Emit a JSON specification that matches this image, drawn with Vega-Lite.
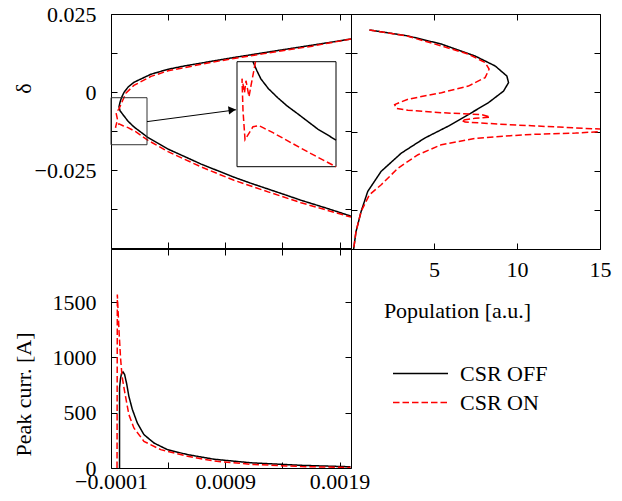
{
  "$schema": "https://vega.github.io/schema/vega-lite/v6.json",
  "padding": {"left": 11, "top": 2, "right": 5, "bottom": 5},
  "config": {
    "view": {"stroke": "black", "strokeWidth": 1},
    "style": {
      "guide-label": {"font": "Liberation Serif", "fontSize": 22, "fill": "black"},
      "guide-title": {"font": "Liberation Serif", "fontSize": 22, "fontWeight": "normal", "fill": "black"}
    },
    "axis": {"grid": false, "domain": false, "tickSize": -6, "tickColor": "black", "tickWidth": 1, "labelFont": "Liberation Serif", "labelFontSize": 22, "labelColor": "black", "titleFont": "Liberation Serif", "titleFontSize": 22, "titleFontWeight": "normal", "titleColor": "black", "labelFlush": false, "labelOverlap": false},
    "line": {"strokeWidth": 1.5}
  },
  "datasets": {
    "tl": [
      {"series":"CSR OFF","i":1,"t":0.0020,"d":0.0170},
      {"series":"CSR OFF","i":2,"t":0.00185,"d":0.0161},
      {"series":"CSR OFF","i":3,"t":0.00166,"d":0.0150},
      {"series":"CSR OFF","i":4,"t":0.0015,"d":0.0141},
      {"series":"CSR OFF","i":5,"t":0.00124,"d":0.0126},
      {"series":"CSR OFF","i":6,"t":0.0010,"d":0.0112},
      {"series":"CSR OFF","i":7,"t":0.00079,"d":0.0099},
      {"series":"CSR OFF","i":8,"t":0.00055,"d":0.0084},
      {"series":"CSR OFF","i":9,"t":0.0004,"d":0.0073},
      {"series":"CSR OFF","i":10,"t":0.00025,"d":0.0057},
      {"series":"CSR OFF","i":11,"t":0.0001,"d":0.0031},
      {"series":"CSR OFF","i":12,"t":0.00005,"d":0.0016},
      {"series":"CSR OFF","i":13,"t":0.000014,"d":-0.0001},
      {"series":"CSR OFF","i":14,"t":-0.000008,"d":-0.0018},
      {"series":"CSR OFF","i":15,"t":-0.000021,"d":-0.0033},
      {"series":"CSR OFF","i":16,"t":-0.00003,"d":-0.0047},
      {"series":"CSR OFF","i":17,"t":-0.000021,"d":-0.0060},
      {"series":"CSR OFF","i":18,"t":0.000014,"d":-0.0077},
      {"series":"CSR OFF","i":19,"t":0.00005,"d":-0.0094},
      {"series":"CSR OFF","i":20,"t":0.000101,"d":-0.0112},
      {"series":"CSR OFF","i":21,"t":0.000224,"d":-0.0146},
      {"series":"CSR OFF","i":22,"t":0.000399,"d":-0.0183},
      {"series":"CSR OFF","i":23,"t":0.00055,"d":-0.0208},
      {"series":"CSR OFF","i":24,"t":0.000688,"d":-0.0231},
      {"series":"CSR OFF","i":25,"t":0.000976,"d":-0.0273},
      {"series":"CSR OFF","i":26,"t":0.00112,"d":-0.0292},
      {"series":"CSR OFF","i":27,"t":0.001274,"d":-0.0311},
      {"series":"CSR OFF","i":28,"t":0.00142,"d":-0.0329},
      {"series":"CSR OFF","i":29,"t":0.001563,"d":-0.0347},
      {"series":"CSR OFF","i":30,"t":0.0018,"d":-0.0374},
      {"series":"CSR OFF","i":31,"t":0.0020,"d":-0.0398},
      {"series":"CSR ON","i":1,"t":0.0020,"d":0.0170},
      {"series":"CSR ON","i":2,"t":0.00166,"d":0.0147},
      {"series":"CSR ON","i":3,"t":0.00124,"d":0.0123},
      {"series":"CSR ON","i":4,"t":0.00079,"d":0.0096},
      {"series":"CSR ON","i":5,"t":0.0004,"d":0.0068},
      {"series":"CSR ON","i":6,"t":0.00025,"d":0.0050},
      {"series":"CSR ON","i":7,"t":0.0001,"d":0.0021},
      {"series":"CSR ON","i":8,"t":0.00003,"d":-0.0004},
      {"series":"CSR ON","i":9,"t":0.000001,"d":-0.0028},
      {"series":"CSR ON","i":10,"t":-0.00003,"d":-0.0054},
      {"series":"CSR ON","i":11,"t":-0.000056,"d":-0.0066},
      {"series":"CSR ON","i":12,"t":-0.000043,"d":-0.0089},
      {"series":"CSR ON","i":13,"t":-0.000061,"d":-0.0114},
      {"series":"CSR ON","i":14,"t":-0.00003,"d":-0.0102},
      {"series":"CSR ON","i":15,"t":0.000005,"d":-0.0108},
      {"series":"CSR ON","i":16,"t":0.000049,"d":-0.0114},
      {"series":"CSR ON","i":17,"t":0.000119,"d":-0.0128},
      {"series":"CSR ON","i":18,"t":0.000224,"d":-0.0155},
      {"series":"CSR ON","i":19,"t":0.000399,"d":-0.0191},
      {"series":"CSR ON","i":20,"t":0.000688,"d":-0.0240},
      {"series":"CSR ON","i":21,"t":0.000976,"d":-0.0283},
      {"series":"CSR ON","i":22,"t":0.001274,"d":-0.0320},
      {"series":"CSR ON","i":23,"t":0.001563,"d":-0.0355},
      {"series":"CSR ON","i":24,"t":0.0020,"d":-0.0401}
    ],
    "inset": [
      {"series":"CSR OFF","i":1,"t":-0.000049,"d":-0.00183},
      {"series":"CSR OFF","i":2,"t":-0.000037,"d":-0.0031},
      {"series":"CSR OFF","i":3,"t":-0.000024,"d":-0.0043},
      {"series":"CSR OFF","i":4,"t":0.0,"d":-0.0057},
      {"series":"CSR OFF","i":5,"t":0.0000295,"d":-0.0070},
      {"series":"CSR OFF","i":6,"t":0.00006,"d":-0.0082},
      {"series":"CSR OFF","i":7,"t":0.000093,"d":-0.0093},
      {"series":"CSR OFF","i":8,"t":0.000125,"d":-0.0104},
      {"series":"CSR OFF","i":9,"t":0.000157,"d":-0.0115},
      {"series":"CSR OFF","i":10,"t":0.000187,"d":-0.0123},
      {"series":"CSR OFF","i":11,"t":0.000215,"d":-0.0131},
      {"series":"CSR ON","i":1,"t":-0.0000411,"d":-0.00183},
      {"series":"CSR ON","i":2,"t":-0.0000555,"d":-0.00527},
      {"series":"CSR ON","i":3,"t":-0.0000618,"d":-0.00685},
      {"series":"CSR ON","i":4,"t":-0.0000714,"d":-0.00456},
      {"series":"CSR ON","i":5,"t":-0.0000761,"d":-0.00628},
      {"series":"CSR ON","i":6,"t":-0.0000841,"d":-0.00427},
      {"series":"CSR ON","i":7,"t":-0.0000809,"d":-0.00886},
      {"series":"CSR ON","i":8,"t":-0.0000745,"d":-0.01302},
      {"series":"CSR ON","i":9,"t":-0.0000491,"d":-0.01116},
      {"series":"CSR ON","i":10,"t":-0.00003,"d":-0.01101},
      {"series":"CSR ON","i":11,"t":-0.0000173,"d":-0.0113},
      {"series":"CSR ON","i":12,"t":0.0000145,"d":-0.01202},
      {"series":"CSR ON","i":13,"t":0.0000718,"d":-0.01345},
      {"series":"CSR ON","i":14,"t":0.0001355,"d":-0.01503},
      {"series":"CSR ON","i":15,"t":0.000215,"d":-0.0169}
    ],
    "tr": [
      {"series":"CSR OFF","i":1,"p":1.11,"d":0.0199},
      {"series":"CSR OFF","i":2,"p":3.43,"d":0.0180},
      {"series":"CSR OFF","i":3,"p":5.45,"d":0.0154},
      {"series":"CSR OFF","i":4,"p":7.47,"d":0.0116},
      {"series":"CSR OFF","i":5,"p":8.69,"d":0.0084},
      {"series":"CSR OFF","i":6,"p":9.39,"d":0.0052},
      {"series":"CSR OFF","i":7,"p":9.49,"d":0.0031},
      {"series":"CSR OFF","i":8,"p":9.19,"d":0.0004},
      {"series":"CSR OFF","i":9,"p":8.28,"d":-0.0033},
      {"series":"CSR OFF","i":10,"p":7.07,"d":-0.0071},
      {"series":"CSR OFF","i":11,"p":5.86,"d":-0.0108},
      {"series":"CSR OFF","i":12,"p":4.44,"d":-0.0146},
      {"series":"CSR OFF","i":13,"p":3.03,"d":-0.0194},
      {"series":"CSR OFF","i":14,"p":1.82,"d":-0.0252},
      {"series":"CSR OFF","i":15,"p":1.01,"d":-0.0316},
      {"series":"CSR OFF","i":16,"p":0.61,"d":-0.0380},
      {"series":"CSR OFF","i":17,"p":0.30,"d":-0.0445},
      {"series":"CSR OFF","i":18,"p":0.16,"d":-0.0500},
      {"series":"CSR ON","i":1,"p":1.11,"d":0.0199},
      {"series":"CSR ON","i":2,"p":3.43,"d":0.0179},
      {"series":"CSR ON","i":3,"p":5.45,"d":0.0148},
      {"series":"CSR ON","i":4,"p":7.07,"d":0.0122},
      {"series":"CSR ON","i":5,"p":8.08,"d":0.0095},
      {"series":"CSR ON","i":6,"p":8.32,"d":0.0074},
      {"series":"CSR ON","i":7,"p":8.08,"d":0.0047},
      {"series":"CSR ON","i":8,"p":7.07,"d":0.0020},
      {"series":"CSR ON","i":9,"p":5.45,"d":-0.0001},
      {"series":"CSR ON","i":10,"p":3.43,"d":-0.0022},
      {"series":"CSR ON","i":11,"p":2.63,"d":-0.0039},
      {"series":"CSR ON","i":12,"p":2.73,"d":-0.0051},
      {"series":"CSR ON","i":13,"p":3.43,"d":-0.0057},
      {"series":"CSR ON","i":14,"p":5.45,"d":-0.0065},
      {"series":"CSR ON","i":15,"p":7.88,"d":-0.0071},
      {"series":"CSR ON","i":16,"p":8.38,"d":-0.0079},
      {"series":"CSR ON","i":17,"p":7.47,"d":-0.0083},
      {"series":"CSR ON","i":18,"p":6.67,"d":-0.0089},
      {"series":"CSR ON","i":19,"p":6.87,"d":-0.0095},
      {"series":"CSR ON","i":20,"p":9.49,"d":-0.0103},
      {"series":"CSR ON","i":21,"p":12.53,"d":-0.0111},
      {"series":"CSR ON","i":22,"p":16.5,"d":-0.0121},
      {"series":"CSR ON","i":23,"p":13.53,"d":-0.0130},
      {"series":"CSR ON","i":24,"p":10.5,"d":-0.0135},
      {"series":"CSR ON","i":25,"p":7.47,"d":-0.0147},
      {"series":"CSR ON","i":26,"p":5.45,"d":-0.0167},
      {"series":"CSR ON","i":27,"p":4.04,"d":-0.0199},
      {"series":"CSR ON","i":28,"p":2.83,"d":-0.0242},
      {"series":"CSR ON","i":29,"p":1.82,"d":-0.0295},
      {"series":"CSR ON","i":30,"p":1.11,"d":-0.0327},
      {"series":"CSR ON","i":31,"p":0.61,"d":-0.0380},
      {"series":"CSR ON","i":32,"p":0.30,"d":-0.0445},
      {"series":"CSR ON","i":33,"p":0.16,"d":-0.0500}
    ],
    "bl": [
      {"series":"CSR OFF","i":1,"t":-0.0000253,"c":0},
      {"series":"CSR OFF","i":2,"t":-0.0000253,"c":723},
      {"series":"CSR OFF","i":3,"t":-0.0000165,"c":811},
      {"series":"CSR OFF","i":4,"t":-0.0000077,"c":856},
      {"series":"CSR OFF","i":5,"t":0.0000054,"c":868},
      {"series":"CSR OFF","i":6,"t":0.0000186,"c":847},
      {"series":"CSR OFF","i":7,"t":0.0000362,"c":766},
      {"series":"CSR OFF","i":8,"t":0.0000564,"c":648},
      {"series":"CSR OFF","i":9,"t":0.0000863,"c":531},
      {"series":"CSR OFF","i":10,"t":0.0001302,"c":407},
      {"series":"CSR OFF","i":11,"t":0.0001882,"c":302},
      {"series":"CSR OFF","i":12,"t":0.0002761,"c":226},
      {"series":"CSR OFF","i":13,"t":0.0003938,"c":166},
      {"series":"CSR OFF","i":14,"t":0.0005696,"c":121},
      {"series":"CSR OFF","i":15,"t":0.0008033,"c":79},
      {"series":"CSR OFF","i":16,"t":0.0011258,"c":47},
      {"series":"CSR OFF","i":17,"t":0.0015651,"c":24},
      {"series":"CSR OFF","i":18,"t":0.0019957,"c":11},
      {"series":"CSR ON","i":1,"t":-0.0000473,"c":0},
      {"series":"CSR ON","i":2,"t":-0.0000446,"c":1568},
      {"series":"CSR ON","i":3,"t":-0.0000297,"c":1236},
      {"series":"CSR ON","i":4,"t":-0.0000165,"c":995},
      {"series":"CSR ON","i":5,"t":-0.0000033,"c":829},
      {"series":"CSR ON","i":6,"t":0.0000186,"c":694},
      {"series":"CSR ON","i":7,"t":0.0000564,"c":483},
      {"series":"CSR ON","i":8,"t":0.0001003,"c":362},
      {"series":"CSR ON","i":9,"t":0.0001882,"c":241},
      {"series":"CSR ON","i":10,"t":0.000335,"c":166},
      {"series":"CSR ON","i":11,"t":0.0005696,"c":106},
      {"series":"CSR ON","i":12,"t":0.0008033,"c":63},
      {"series":"CSR ON","i":13,"t":0.0011258,"c":33},
      {"series":"CSR ON","i":14,"t":0.0015651,"c":13},
      {"series":"CSR ON","i":15,"t":0.0019957,"c":4}
    ],
    "box": [{"t1": -0.0001, "t2": 0.000215, "d1": -0.0169, "d2": -0.00183}],
    "arrow": [{"t1": 0.000215, "d1": -0.0095, "t2": 0.000995, "d2": -0.0057, "th": 0.00096, "dh": -0.00575}]
  },
  "columns": 2,
  "spacing": 0,
  "bounds": "flush",
  "align": "each",
  "resolve": {
    "scale": {"x": "independent", "y": "independent"},
    "legend": {"color": "independent", "strokeDash": "independent"}
  },
  "concat": [
    {
      "width": 240,
      "height": 234,
      "layer": [
        {
          "layer": [
            {
              "data": {"name": "tl"},
              "transform": [{"filter": "datum.series == 'CSR OFF'"}],
              "mark": {"type": "line", "clip": true},
              "encoding": {
                "x": {"field": "t", "type": "quantitative", "scale": {"domain": [-0.0001, 0.002], "nice": false, "zero": false}, "axis": {"orient": "bottom", "values": [-0.0001, 0.0004, 0.0009, 0.0014, 0.0019], "labels": false, "title": null}},
                "y": {"field": "d", "type": "quantitative", "scale": {"domain": [-0.05, 0.025], "nice": false, "zero": false}, "axis": {"orient": "left", "values": [-0.05, -0.0375, -0.025, -0.0125, 0, 0.0125, 0.025], "format": ".3~f", "labelExpr": "abs(datum.value) > 0.03 || abs(abs(datum.value) - 0.0125) < 0.001 ? '' : datum.label", "labelFont": "Liberation Serif", "labelFontSize": 22, "labelPadding": 21, "title": "δ", "titleX": -88, "titleY": 74, "titleBaseline": "middle", "titleAlign": "center", "titleAngle": 270}},
                "order": {"field": "i", "type": "quantitative"},
                "color": {"field": "series", "type": "nominal", "scale": {"domain": ["CSR OFF", "CSR ON"], "range": ["#000000", "#ff0000"]}, "legend": null},
                "strokeDash": {"field": "series", "type": "nominal", "scale": {"domain": ["CSR OFF", "CSR ON"], "range": [[1, 0], [6.5, 3]]}, "legend": null}
              }
            },
            {
              "data": {"name": "tl"},
              "transform": [{"filter": "datum.series == 'CSR ON'"}],
              "mark": {"type": "line", "clip": true},
              "encoding": {
                "x": {"field": "t", "type": "quantitative", "scale": {"domain": [-0.0001, 0.002], "nice": false, "zero": false}, "axis": {"orient": "top", "values": [-0.0001, 0.0004, 0.0009, 0.0014, 0.0019], "labels": false, "title": null}},
                "y": {"field": "d", "type": "quantitative", "scale": {"domain": [-0.05, 0.025], "nice": false, "zero": false}, "axis": {"orient": "right", "values": [-0.05, -0.0375, -0.025, -0.0125, 0, 0.0125, 0.025], "labels": false, "title": null}},
                "order": {"field": "i", "type": "quantitative"},
                "color": {"field": "series", "type": "nominal", "scale": {"domain": ["CSR OFF", "CSR ON"], "range": ["#000000", "#ff0000"]}, "legend": null},
                "strokeDash": {"field": "series", "type": "nominal", "scale": {"domain": ["CSR OFF", "CSR ON"], "range": [[1, 0], [6.5, 3]]}, "legend": null}
              }
            },
            {
              "data": {"name": "box"},
              "mark": {"type": "rect", "fill": null, "fillOpacity": 0, "stroke": "#333333", "strokeWidth": 1},
              "encoding": {
                "x": {"field": "t1", "type": "quantitative", "scale": {"domain": [-0.0001, 0.002], "nice": false, "zero": false}, "axis": null},
                "x2": {"field": "t2"},
                "y": {"field": "d1", "type": "quantitative", "scale": {"domain": [-0.05, 0.025], "nice": false, "zero": false}, "axis": null},
                "y2": {"field": "d2"}
              }
            },
            {
              "data": {"name": "arrow"},
              "mark": {"type": "rule", "stroke": "black", "strokeWidth": 1},
              "encoding": {
                "x": {"field": "t1", "type": "quantitative", "scale": {"domain": [-0.0001, 0.002], "nice": false, "zero": false}, "axis": null},
                "x2": {"field": "t2"},
                "y": {"field": "d1", "type": "quantitative", "scale": {"domain": [-0.05, 0.025], "nice": false, "zero": false}, "axis": null},
                "y2": {"field": "d2"}
              }
            },
            {
              "data": {"name": "arrow"},
              "mark": {"type": "point", "shape": "triangle-right", "filled": true, "color": "black", "opacity": 1, "size": 70, "angle": -7.6},
              "encoding": {
                "x": {"field": "th", "type": "quantitative", "scale": {"domain": [-0.0001, 0.002], "nice": false, "zero": false}, "axis": null},
                "y": {"field": "dh", "type": "quantitative", "scale": {"domain": [-0.05, 0.025], "nice": false, "zero": false}, "axis": null}
              }
            }
          ],
          "resolve": {"axis": {"x": "independent", "y": "independent"}}
        },
        {
          "layer": [
            {
              "data": {"name": "box"},
              "mark": {"type": "rect", "fill": "white", "stroke": "black", "strokeWidth": 1},
              "encoding": {
                "x": {"field": "t1", "type": "quantitative", "scale": {"domain": [-0.0001, 0.000215], "range": [126, 225], "nice": false, "zero": false}, "axis": null},
                "x2": {"field": "t2"},
                "y": {"field": "d1", "type": "quantitative", "scale": {"domain": [-0.0169, -0.00183], "range": [152.7, 47.7], "nice": false, "zero": false}, "axis": null},
                "y2": {"field": "d2"}
              }
            },
            {
              "data": {"name": "inset"},
              "mark": {"type": "line"},
              "encoding": {
                "x": {"field": "t", "type": "quantitative", "scale": {"domain": [-0.0001, 0.000215], "range": [126, 225], "nice": false, "zero": false}, "axis": null},
                "y": {"field": "d", "type": "quantitative", "scale": {"domain": [-0.0169, -0.00183], "range": [152.7, 47.7], "nice": false, "zero": false}, "axis": null},
                "order": {"field": "i", "type": "quantitative"},
                "color": {"field": "series", "type": "nominal", "scale": {"domain": ["CSR OFF", "CSR ON"], "range": ["#000000", "#ff0000"]}, "legend": null},
                "strokeDash": {"field": "series", "type": "nominal", "scale": {"domain": ["CSR OFF", "CSR ON"], "range": [[1, 0], [6.5, 3]]}, "legend": null}
              }
            }
          ]
        }
      ],
      "resolve": {"scale": {"x": "independent", "y": "independent"}}
    },
    {
      "width": 249,
      "height": 235,
      "layer": [
        {
          "data": {"name": "tr"},
          "transform": [{"filter": "datum.series == 'CSR OFF'"}],
          "mark": {"type": "line", "clip": true},
          "encoding": {
            "x": {"field": "p", "type": "quantitative", "scale": {"domain": [0, 15], "nice": false, "zero": false}, "axis": {"orient": "bottom", "values": [0, 5, 10, 15], "labelExpr": "datum.value == 0 ? '' : datum.label", "labelFont": "Liberation Serif", "labelFontSize": 22, "labelPadding": 16, "title": "Population [a.u.]", "titleX": 106, "titleY": 68, "titleBaseline": "alphabetic", "titleAlign": "center"}},
            "y": {"field": "d", "type": "quantitative", "scale": {"domain": [-0.05, 0.025], "nice": false, "zero": false}, "axis": {"orient": "left", "values": [-0.05, -0.0375, -0.025, -0.0125, 0, 0.0125, 0.025], "labels": false, "title": null}},
            "order": {"field": "i", "type": "quantitative"},
            "color": {"field": "series", "type": "nominal", "scale": {"domain": ["CSR OFF", "CSR ON"], "range": ["#000000", "#ff0000"]}, "legend": null},
            "strokeDash": {"field": "series", "type": "nominal", "scale": {"domain": ["CSR OFF", "CSR ON"], "range": [[1, 0], [6.5, 3]]}, "legend": null}
          }
        },
        {
          "data": {"name": "tr"},
          "transform": [{"filter": "datum.series == 'CSR ON'"}],
          "mark": {"type": "line", "clip": true},
          "encoding": {
            "x": {"field": "p", "type": "quantitative", "scale": {"domain": [0, 15], "nice": false, "zero": false}, "axis": {"orient": "top", "values": [0, 5, 10, 15], "labels": false, "title": null}},
            "y": {"field": "d", "type": "quantitative", "scale": {"domain": [-0.05, 0.025], "nice": false, "zero": false}, "axis": {"orient": "right", "values": [-0.05, -0.0375, -0.025, -0.0125, 0, 0.0125, 0.025], "labels": false, "title": null}},
            "order": {"field": "i", "type": "quantitative"},
            "color": {"field": "series", "type": "nominal", "scale": {"domain": ["CSR OFF", "CSR ON"], "range": ["#000000", "#ff0000"]}, "legend": null},
            "strokeDash": {"field": "series", "type": "nominal", "scale": {"domain": ["CSR OFF", "CSR ON"], "range": [[1, 0], [6.5, 3]]}, "legend": null}
          }
        }
      ],
      "resolve": {"axis": {"x": "independent", "y": "independent"}}
    },
    {
      "width": 240,
      "height": 219,
      "layer": [
        {
          "data": {"name": "bl"},
          "transform": [{"filter": "datum.series == 'CSR OFF'"}],
          "mark": {"type": "line", "clip": true},
          "encoding": {
            "x": {"field": "t", "type": "quantitative", "scale": {"domain": [-0.0001, 0.002], "nice": false, "zero": false}, "axis": {"orient": "bottom", "values": [-0.0001, 0.0004, 0.0009, 0.0014, 0.0019], "format": ".4f", "labelExpr": "datum.value == 0.0004 || datum.value == 0.0014 ? '' : datum.label", "labelFont": "Liberation Serif", "labelFontSize": 22, "labelPadding": 9, "title": null}},
            "y": {"field": "c", "type": "quantitative", "scale": {"domain": [0, 1980], "nice": false, "zero": false}, "axis": {"orient": "left", "values": [0, 500, 1000, 1500], "format": "d", "labelFont": "Liberation Serif", "labelFontSize": 22, "labelPadding": 21, "title": "Peak curr. [A]", "titleX": -88, "titleY": 145, "titleBaseline": "middle", "titleAlign": "center", "titleAngle": 270}},
            "order": {"field": "i", "type": "quantitative"},
            "color": {"field": "series", "type": "nominal", "scale": {"domain": ["CSR OFF", "CSR ON"], "range": ["#000000", "#ff0000"]}, "legend": {"orient": "none", "legendX": 281, "legendY": 110, "title": null, "direction": "vertical", "symbolType": "stroke", "symbolSize": 3025, "symbolStrokeWidth": 1.5, "labelFont": "Liberation Serif", "labelFontSize": 22, "labelColor": "black", "labelOffset": 11, "rowPadding": 0, "clipHeight": 29, "padding": 0}},
            "strokeDash": {"field": "series", "type": "nominal", "scale": {"domain": ["CSR OFF", "CSR ON"], "range": [[1, 0], [6.5, 3]]}, "legend": {"orient": "none", "legendX": 281, "legendY": 110, "title": null, "direction": "vertical", "symbolType": "stroke", "symbolSize": 3025, "symbolStrokeWidth": 1.5, "labelFont": "Liberation Serif", "labelFontSize": 22, "labelColor": "black", "labelOffset": 11, "rowPadding": 0, "clipHeight": 29, "padding": 0}}
          }
        },
        {
          "data": {"name": "bl"},
          "transform": [{"filter": "datum.series == 'CSR ON'"}],
          "mark": {"type": "line", "clip": true},
          "encoding": {
            "x": {"field": "t", "type": "quantitative", "scale": {"domain": [-0.0001, 0.002], "nice": false, "zero": false}, "axis": {"orient": "top", "values": [-0.0001, 0.0004, 0.0009, 0.0014, 0.0019], "labels": false, "title": null}},
            "y": {"field": "c", "type": "quantitative", "scale": {"domain": [0, 1980], "nice": false, "zero": false}, "axis": {"orient": "right", "values": [0, 500, 1000, 1500], "labels": false, "title": null}},
            "order": {"field": "i", "type": "quantitative"},
            "color": {"field": "series", "type": "nominal", "scale": {"domain": ["CSR OFF", "CSR ON"], "range": ["#000000", "#ff0000"]}},
            "strokeDash": {"field": "series", "type": "nominal", "scale": {"domain": ["CSR OFF", "CSR ON"], "range": [[1, 0], [6.5, 3]]}}
          }
        }
      ],
      "resolve": {"axis": {"x": "independent", "y": "independent"}}
    }
  ]
}
